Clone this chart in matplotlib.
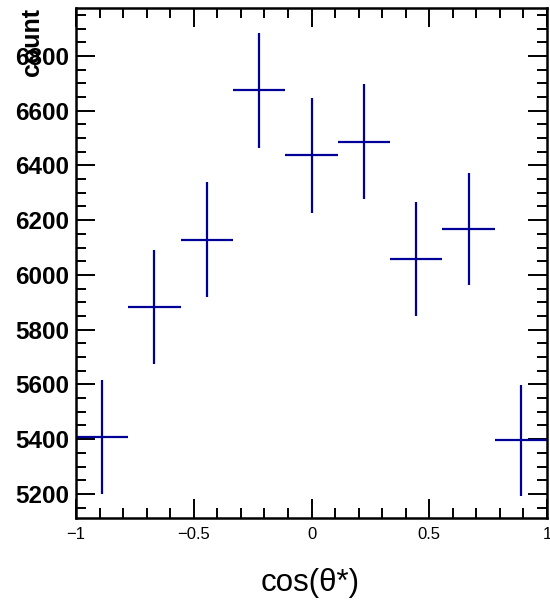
import matplotlib
matplotlib.use("Agg")
import matplotlib.pyplot as plt
import numpy as np
from matplotlib.ticker import MultipleLocator

# Data
bin_edges = np.linspace(-1, 1, 10)
counts = [5408, 5882, 6128, 6675, 6437, 6487, 6058, 6168, 5396]
errors = [208, 208, 210, 210, 210, 210, 208, 205, 202]
x_ticks = [-1, -0.5, 0, 0.5, 1]
x_ticklabels = ["\u22121", "\u22120.5", "0", "0.5", "1"]
y_ticks = [5200, 5400, 5600, 5800, 6000, 6200, 6400, 6600, 6800]

centers = 0.5 * (bin_edges[:-1] + bin_edges[1:])
halfw = 0.5 * np.diff(bin_edges)

plt.rcParams['font.family'] = ['Liberation Sans', 'DejaVu Sans']

fig = plt.figure(figsize=(5.5, 6.04), dpi=100)
ax = fig.add_axes([76/550, 1-518.3/604, (547-76)/550, (518.3-8)/604])

ax.errorbar(centers, counts, xerr=halfw, yerr=errors, fmt='none',
            ecolor='#000099', elinewidth=1.6, capsize=0)

ax.set_xlim(-1, 1)
ax.set_ylim(5111, 6975)

ax.set_xticks(x_ticks)
ax.set_xticklabels(x_ticklabels, fontsize=12)
ax.xaxis.set_minor_locator(MultipleLocator(0.1))
ax.set_yticks(y_ticks)
ax.set_yticklabels([str(v) for v in y_ticks], fontsize=17.5, fontweight='bold')
ax.yaxis.set_minor_locator(MultipleLocator(50))

ax.tick_params(which='both', direction='in', top=True, right=True, width=1.4)
ax.tick_params(which='major', length=14)
ax.tick_params(which='minor', length=7)
ax.tick_params(axis='x', pad=6)
ax.tick_params(axis='y', pad=5)
for s in ax.spines.values():
    s.set_linewidth(1.8)

fig.text(310/550, 1-583/604, "cos(\u03b8*)", fontsize=22.5, ha='center', va='center')
fig.text(20/550, 1-8/604, "count", fontsize=18, fontweight='bold',
         rotation=90, ha='left', va='top')

fig.savefig("out.png", dpi=100)
